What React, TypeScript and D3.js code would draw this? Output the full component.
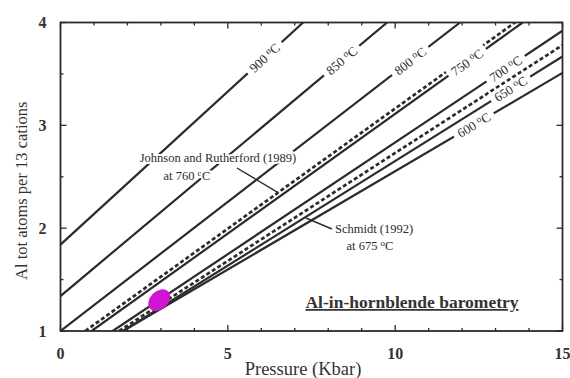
import * as d3 from "d3";
import React from "react";

const isoTemps = ["900", "850", "800", "750", "700", "650", "600"];
const isoStartP = [0, 0, 0, 0.93, 1.56, 1.87, 1.87];
const isoStartAl = [1.84, 1.34, 1.0, 1, 1, 1, 1];
const isoEndP = [7.25, 9.76, 11.94, 13.81, 15, 15, 15];
const isoEndAl = [4, 4, 4, 4, 3.92, 3.67, 3.51];
const isoLabelP = [6.1, 8.4, 10.45, 12.15, 13.3, 13.45, 12.35];

// other calibrations (dashed)
const calNames = ["Johnson and Rutherford (1989)", "Schmidt (1992)"];
const calTemps = ["760", "675"];
const calStartP = [0.74, 1.75];
const calStartAl = [1, 1];
const calEndP = [13.58, 15];
const calEndAl = [4, 3.78];

// sample field
const sampleP = [2.95];
const sampleAl = [1.3];

const xTicks = [0, 5, 10, 15];
const yTicks = [1, 2, 3, 4];

const W = 570, H = 378;
const m = { left: 60.5, right: 7.5, top: 22.5, bottom: 47 };
const serif = "'Liberation Serif', 'DejaVu Serif', serif";
const ink = "#2b2b2b";

const Deg = ({ size }: { size: number }) => (
  <>
    <tspan fontSize={size * 0.72} dy="-0.45em">o</tspan>
    <tspan dy="0.32em">C</tspan>
  </>
);

const App = () => {
  const x = d3.scaleLinear().domain([0, 15]).range([m.left, W - m.right]);
  const y = d3.scaleLinear().domain([1, 4]).range([H - m.bottom, m.top]);
  const line = d3.line<[number, number]>().x(d => x(d[0])).y(d => y(d[1]));

  const isoLines = isoTemps.map((t, i) => ({
    t,
    pts: [[isoStartP[i], isoStartAl[i]], [isoEndP[i], isoEndAl[i]]] as [number, number][],
    lp: isoLabelP[i],
  }));
  const calLines = calNames.map((n, i) => ({
    n,
    pts: [[calStartP[i], calStartAl[i]], [calEndP[i], calEndAl[i]]] as [number, number][],
  }));

  const at = (pts: [number, number][], p: number) =>
    pts[0][1] + (pts[1][1] - pts[0][1]) * (p - pts[0][0]) / (pts[1][0] - pts[0][0]);
  const angle = (pts: [number, number][]) =>
    Math.atan2(y(pts[1][1]) - y(pts[0][1]), x(pts[1][0]) - x(pts[0][0])) * 180 / Math.PI;

  const x0 = x.range()[0], x1 = x.range()[1];
  const y0 = y.range()[0], y1 = y.range()[1];

  return (
    <svg width={W} height={H} style={{ position: "absolute", left: 0, top: 0, background: "#fff" }}>
      <defs>
        <clipPath id="plot">
          <rect x={x0} y={y1} width={x1 - x0} height={y0 - y1} />
        </clipPath>
      </defs>

      <g clipPath="url(#plot)">
        {calLines.map(c => (
          <path key={c.n} d={line(c.pts) || ""} fill="none" stroke={ink} strokeWidth={2.7} strokeDasharray="4,2.5" />
        ))}
        {isoLines.map(l => (
          <path key={l.t} d={line(l.pts) || ""} fill="none" stroke={ink} strokeWidth={2.2} />
        ))}
        {sampleP.map((p, i) => (
          <ellipse key={i} cx={x(p)} cy={y(sampleAl[i])} rx={12.5} ry={9} fill="#d313d3"
            transform={`rotate(-45 ${x(p)} ${y(sampleAl[i])})`} />
        ))}
      </g>

      {/* isotherm labels */}
      {isoLines.map(l => {
        const cx = x(l.lp), cy = y(at(l.pts, l.lp)), a = angle(l.pts);
        return (
          <g key={l.t} transform={`translate(${cx},${cy}) rotate(${a})`}>
            <rect x={-23} y={-7} width={46} height={14} fill="#fff" />
            <text textAnchor="middle" dy="0.35em" fontFamily={serif} fontSize={13} fill={ink}>
              {l.t + " "}<Deg size={13} />
            </text>
          </g>
        );
      })}

      {/* annotations */}
      <line x1={237} y1={168} x2={x(6.5)} y2={y(at(calLines[0].pts, 6.5))} stroke={ink} strokeWidth={1.4} />
      <g fontFamily={serif} fontSize={12.5} fill={ink} stroke="#fff" strokeWidth={4} paintOrder="stroke" textAnchor="middle">
        <text x={218} y={162}>{calNames[0]}</text>
        <text x={187} y={180}>{"at " + calTemps[0] + " "}<Deg size={12.5} /></text>
      </g>
      <line x1={332} y1={229} x2={306} y2={218} stroke={ink} strokeWidth={1.4} />
      <text x={374} y={233} textAnchor="middle" fontFamily={serif} fontSize={12.5} fill={ink}>{calNames[1]}</text>
      <text x={370} y={250} textAnchor="middle" fontFamily={serif} fontSize={12.5} fill={ink}>
        {"at " + calTemps[1] + " "}<Deg size={12.5} />
      </text>

      <text x={412} y={308} textAnchor="middle" fontFamily={serif} fontSize={17.5} fontWeight="bold"
        fill="#333" textDecoration="underline">Al-in-hornblende barometry</text>

      {/* ticks */}
      {x.ticks(15).map(t => {
        const major = xTicks.includes(t);
        const len = major ? 6 : 3;
        return (
          <g key={"x" + t} stroke={ink} strokeWidth={1.3}>
            <line x1={x(t)} x2={x(t)} y1={y0} y2={y0 - len} />
            <line x1={x(t)} x2={x(t)} y1={y1} y2={y1 + len} />
          </g>
        );
      })}
      {y.ticks(6).map(t => {
        const major = yTicks.includes(t);
        const len = major ? 6 : 3;
        return (
          <g key={"y" + t} stroke={ink} strokeWidth={1.3}>
            <line x1={x0} x2={x0 + len} y1={y(t)} y2={y(t)} />
            <line x1={x1} x2={x1 - len} y1={y(t)} y2={y(t)} />
          </g>
        );
      })}

      <rect x={x0} y={y1} width={x1 - x0} height={y0 - y1} fill="none" stroke={ink} strokeWidth={1.8} />

      {/* tick labels */}
      {xTicks.map(t => (
        <text key={"xl" + t} x={x(t)} y={y0 + 28} textAnchor="middle" fontFamily={serif} fontSize={16}
          fontWeight="bold" fill="#333">{t}</text>
      ))}
      {yTicks.map(t => (
        <text key={"yl" + t} x={x0 - 14} y={y(t)} dy="0.35em" textAnchor="end" fontFamily={serif} fontSize={16}
          fontWeight="bold" fill="#333">{t}</text>
      ))}

      <text x={303} y={375} textAnchor="middle" fontFamily={serif} fontSize={18.5} fill="#333">Pressure (Kbar)</text>
      <text transform={`translate(27,${(y0 + y1) / 2 + 14}) rotate(-90)`} textAnchor="middle" fontFamily={serif}
        fontSize={16.5} fill="#333">Al tot atoms per 13 cations</text>
    </svg>
  );
};

export default App;
